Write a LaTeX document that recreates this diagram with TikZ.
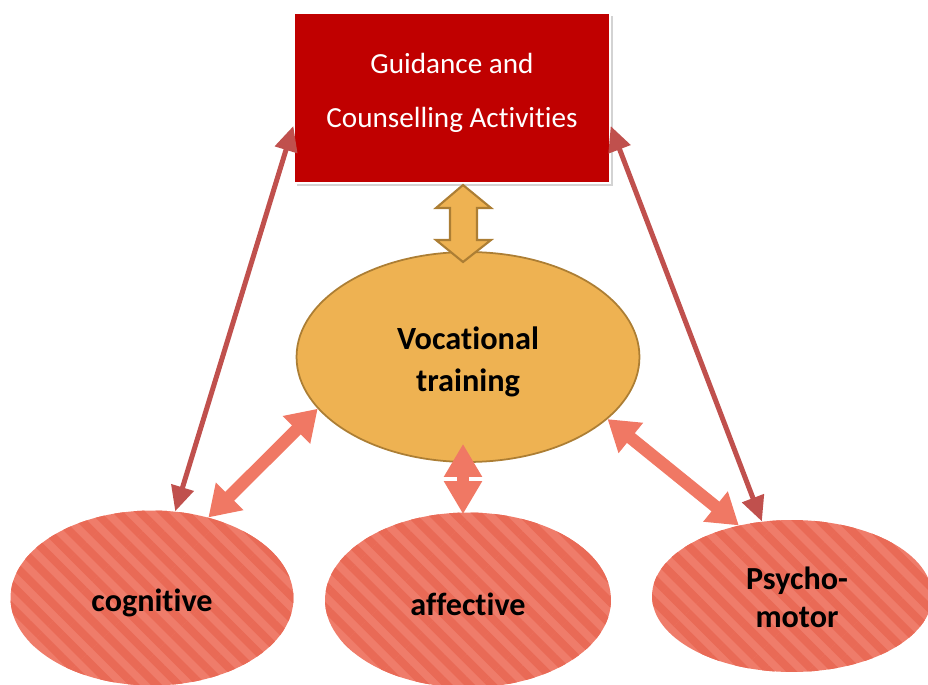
\documentclass[tikz,border=0pt]{standalone}
\usepackage{fontspec}
\setmainfont{Carlito}[Ligatures=NoCommon]
\usetikzlibrary{positioning,calc,shapes.geometric,arrows.meta,patterns.meta,shadows}

\definecolor{boxred}{RGB}{192,0,0}
\definecolor{coreorange}{RGB}{238,178,82}
\definecolor{coreedge}{RGB}{172,126,52}
\definecolor{facetfill}{RGB}{239,124,106}
\definecolor{facetstripe}{RGB}{233,106,86}
\definecolor{linkred}{RGB}{192,80,77}
\definecolor{linksalmon}{RGB}{240,120,100}

\begin{document}
\begin{tikzpicture}[
  x=0.02cm, y=-0.02cm,
  box/.style={
    draw=white,
    line width=0.8pt,
    fill=boxred,
    minimum width=6.32cm,
    minimum height=3.4cm,
    drop shadow={opacity=0.35, shadow xshift=1.5pt, shadow yshift=-1.5pt}
  },
  boxtext/.style={
    text=white,
    align=center,
    font=\fontsize{16.6}{30.7}\selectfont
  },
  core/.style={
    ellipse,
    draw=coreedge,
    line width=1pt,
    fill=coreorange,
    minimum width=6.86cm,
    minimum height=4.2cm
  },
  facet/.style={
    ellipse,
    fill=facetfill,
    postaction={pattern={Lines[angle=-45, distance=9pt, line width=4.5pt]}, pattern color=facetstripe},
    minimum width=5.66cm,
    minimum height=3.5cm
  },
  % bold captions sit a little below the shape centre
  caption/.style={
    align=center,
    yshift=-0.09cm,
    font=\bfseries\fontsize{18.3}{21.8}\selectfont
  },
  link/.style={
    draw=linkred,
    line width=0.1cm,
    arrows={Triangle[length=5mm,width=4.5mm]-Triangle[length=5mm,width=4.5mm]}
  },
  bond/.style={
    draw=linksalmon,
    line width=0.25cm,
    arrows={Triangle[length=6mm,width=7.4mm]-Triangle[length=6mm,width=7.4mm]}
  },
  gatearrow/.style={draw=coreedge, line width=1.2pt, fill=coreorange, line join=miter}
]
\useasboundingbox (0,0) rectangle (928,685);

% --- Top: guidance box ---
\node[box] (guide) at (452,98) {};
\node[boxtext] (guidetext) at ($(guide.center)+(0,-5)$) {Guidance and\\Counselling Activities};

% --- Middle: vocational training ---
\node[core, label={[caption, font=\bfseries\fontsize{18.4}{24}\selectfont]center:{Vocational\\training}}] (voc) at (468,357) {};

% --- Bottom row: the three facets ---
\node[facet, label={[caption]center:cognitive}] (cog) at (152,598) {};
\node[facet, minimum width=5.72cm, label={[caption]center:affective}] (aff) at (468,600) {};
\node[facet, minimum width=5.6cm, minimum height=3.04cm,
  label={[caption, xshift=0.1cm, yshift=0.07cm]center:{Psycho-\\motor}}] (psy) at (792,596) {};

% --- Block arrow between box and ellipse ---
\coordinate (gate) at (463,223);
\begin{scope}[shift={(gate)}]
  \draw[gatearrow] (0,-38) -- (28,-15) -- (14,-15) -- (14,17) -- (28,17)
    -- (0,39) -- (-27,17) -- (-13,17) -- (-13,-15) -- (-27,-15) -- cycle;
\end{scope}

% --- Long links from the box down to the outer facets ---
\draw[link] (guide.190) -- (cog.75);
\draw[link] (guide.-10) -- (psy.112);

% --- Links from vocational training to the facets ---
\draw[bond] (voc.199) -- (cog.55);
\draw[bond] (voc.-24) -- (psy.127);
\draw[bond, line width=0.24cm,
  arrows={Triangle[length=6.6mm,width=7.2mm]-Triangle[length=6.6mm,width=7.2mm]}]
  ($(voc.south)+(-5,-19)$) -- ($(aff.north)+(-5,2)$);

\end{tikzpicture}
\end{document}
